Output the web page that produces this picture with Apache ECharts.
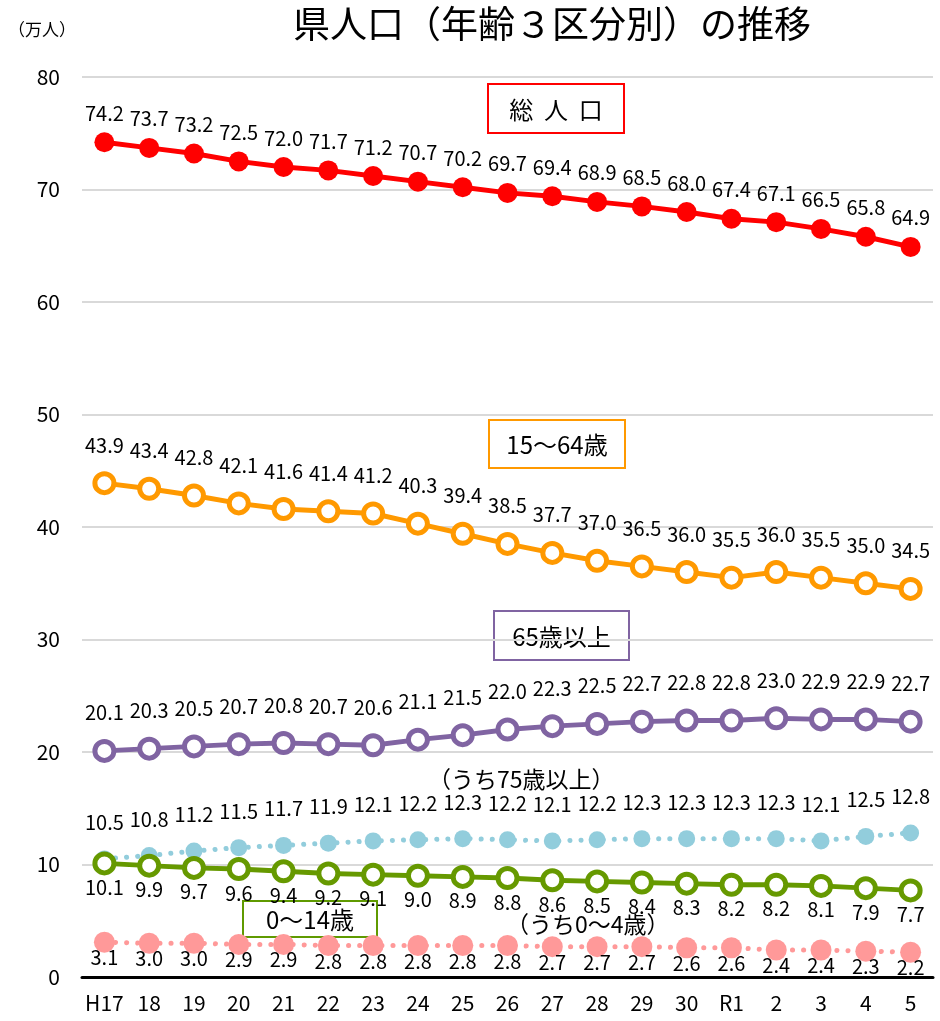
<!DOCTYPE html>
<html>
<head>
<meta charset="utf-8">
<script src="https://cdn.jsdelivr.net/npm/echarts@6/dist/echarts.min.js"></script>
<style>
  html, body { margin: 0; padding: 0; background: #fff; }
  #chart { width: 940px; height: 1021px; }
</style>
</head>
<body>
<div id="chart"></div>
<script>
  // 年度
  var years = ['H17', '18', '19', '20', '21', '22', '23', '24', '25', '26', '27', '28', '29', '30', 'R1', '2', '3', '4', '5']
  // 万人
  var total = [74.2, 73.7, 73.2, 72.5, 72.0, 71.7, 71.2, 70.7, 70.2, 69.7, 69.4, 68.9, 68.5, 68.0, 67.4, 67.1, 66.5, 65.8, 64.9]
  var age15to64 = [43.9, 43.4, 42.8, 42.1, 41.6, 41.4, 41.2, 40.3, 39.4, 38.5, 37.7, 37.0, 36.5, 36.0, 35.5, 36.0, 35.5, 35.0, 34.5]
  var age65over = [20.1, 20.3, 20.5, 20.7, 20.8, 20.7, 20.6, 21.1, 21.5, 22.0, 22.3, 22.5, 22.7, 22.8, 22.8, 23.0, 22.9, 22.9, 22.7]
  var age75over = [10.5, 10.8, 11.2, 11.5, 11.7, 11.9, 12.1, 12.2, 12.3, 12.2, 12.1, 12.2, 12.3, 12.3, 12.3, 12.3, 12.1, 12.5, 12.8]
  var age0to14 = [10.1, 9.9, 9.7, 9.6, 9.4, 9.2, 9.1, 9.0, 8.9, 8.8, 8.6, 8.5, 8.4, 8.3, 8.2, 8.2, 8.1, 7.9, 7.7]
  var age0to4 = [3.1, 3.0, 3.0, 2.9, 2.9, 2.8, 2.8, 2.8, 2.8, 2.8, 2.7, 2.7, 2.7, 2.6, 2.6, 2.4, 2.4, 2.3, 2.2]

  var FONT = '"Noto Sans CJK JP", "Noto Sans", sans-serif'

  function lbl(pos, dist) {
    return {
      show: true,
      position: pos,
      distance: dist,
      color: '#000',
      fontSize: 20,
      fontFamily: FONT,
      formatter: function (p) { return p.value.toFixed(1) }
    }
  }

  // 実線＋丸マーカー
  function solidSeries(name, data, color, hollow, labelPos, labelDist) {
    return {
      name: name,
      type: 'line',
      data: data,
      symbol: 'circle',
      symbolSize: hollow ? 19 : 20,
      lineStyle: { color: color, width: 5 },
      itemStyle: hollow ? { color: '#fff', borderColor: color, borderWidth: 5 } : { color: color },
      label: lbl(labelPos, labelDist),
      emphasis: { disabled: true },
      z: 3
    }
  }

  // 点線（うち〜）
  function dottedSeries(name, data, color, size, labelPos, labelDist) {
    return {
      name: name,
      type: 'line',
      data: data,
      symbol: 'circle',
      symbolSize: size,
      lineStyle: { color: color, width: 5, type: [0.1, 11], cap: 'round' },
      itemStyle: { color: color },
      label: lbl(labelPos, labelDist),
      emphasis: { disabled: true },
      z: 2
    }
  }

  // 系列名の枠付きラベル
  function boxText(x, y, text, border, w, h) {
    return {
      type: 'group',
      left: x,
      top: y,
      z: 10,
      children: [
        { type: 'rect', shape: { x: 0, y: 0, width: w, height: h }, style: { fill: 'rgba(255,255,255,0)', stroke: border, lineWidth: 2 } },
        { type: 'text', x: w / 2, y: h / 2 + 1, style: { text: text, font: '24px ' + FONT, fill: '#000', align: 'center', verticalAlign: 'middle' } }
      ]
    }
  }

  var chart = echarts.init(document.getElementById('chart'))
  chart.setOption({
    backgroundColor: '#fff',
    animation: false,
    title: {
      text: '県人口（年齢３区分別）の推移',
      left: 288,
      top: 0,
      textStyle: { fontSize: 37, fontWeight: 'normal', color: '#000', fontFamily: FONT }
    },
    grid: { left: 82, right: 7, top: 77, bottom: 44, containLabel: false },
    xAxis: {
      type: 'category',
      data: years,
      boundaryGap: true,
      axisLine: { lineStyle: { color: '#000', width: 3 } },
      axisTick: { show: false },
      axisLabel: { color: '#000', fontSize: 21, margin: 16, interval: 0, fontFamily: FONT }
    },
    yAxis: {
      type: 'value',
      min: 0,
      max: 80,
      interval: 10,
      axisLine: { show: false },
      axisTick: { show: false },
      axisLabel: { color: '#000', fontSize: 21, margin: 22, fontFamily: FONT },
      splitLine: { lineStyle: { color: '#d9d9d9', width: 2 } }
    },
    graphic: [
      { type: 'text', left: 8, top: 21, style: { text: '（万人）', font: '17px ' + FONT, fill: '#000' } },
      boxText(487, 83, '総  人  口', '#ff0000', 136, 49),
      boxText(488, 419, '15〜64歳', '#ff9900', 136, 48),
      boxText(493, 610, '65歳以上', '#8064a2', 135, 49),
      boxText(242, 900, '0〜14歳', '#5f9a00', 134, 36),
      { type: 'text', left: 428, top: 768, z: 10, style: { text: '（うち75歳以上）', font: '23px ' + FONT, fill: '#000' } },
      { type: 'text', left: 506, top: 913, z: 10, style: { text: '（うち0〜4歳）', font: '23px ' + FONT, fill: '#000' } }
    ],
    series: [
      dottedSeries('うち0〜4歳', age0to4, '#ff9999', 21, 'bottom', -5),
      dottedSeries('うち75歳以上', age75over, '#92cddc', 17, 'top', 18),
      solidSeries('0〜14歳', age0to14, '#669900', true, 'bottom', 2),
      solidSeries('65歳以上', age65over, '#8064a2', true, 'top', 16),
      solidSeries('15〜64歳', age15to64, '#ff9900', true, 'top', 16),
      solidSeries('総人口', total, '#ff0000', false, 'top', 9)
    ]
  })
</script>
</body>
</html>
